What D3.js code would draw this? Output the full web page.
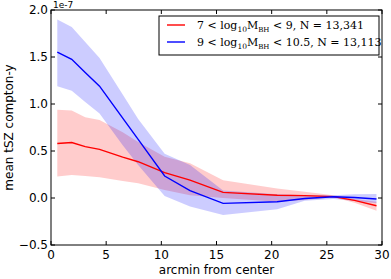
<!DOCTYPE html>
<html>
<head>
<meta charset="utf-8">
<script src="https://cdn.jsdelivr.net/npm/d3@7"></script>
<style>
  body { margin: 0; background: #fff; }
  svg { display: block; font-family: "DejaVu Sans", sans-serif; }
</style>
</head>
<body>
<div class="content"></div>
<script>
(function (window) {
    'use strict';
    // bin centres (arcmin) and values in units of 1e-7
    var radius = [0.57, 1.88, 3.1, 4.4, 6.5, 7.9, 10.3, 12.6, 15.6, 20.5, 23.0, 25.6, 27.5, 29.5],
        lowMass = [0.58, 0.59, 0.546, 0.518, 0.435, 0.386, 0.27, 0.19, 0.06, 0.03, 0.025, 0.015, -0.025, -0.082],
        lowMassHi = [0.94, 0.93, 0.86, 0.83, 0.70, 0.595, 0.44, 0.37, 0.19, 0.10, 0.067, 0.03, -0.01, -0.04],
        lowMassLo = [0.23, 0.245, 0.235, 0.22, 0.18, 0.156, 0.085, 0.03, 0.0, -0.04, -0.02, 0.007, -0.05, -0.135],
        highMass = [1.553, 1.475, 1.336, 1.19, 0.85, 0.623, 0.234, 0.078, -0.057, -0.04, -0.005, 0.014, 0.005, -0.01],
        highMassHi = [1.90, 1.82, 1.66, 1.49, 1.10, 0.84, 0.47, 0.35, 0.08, 0.04, 0.03, 0.03, 0.04, 0.043],
        highMassLo = [1.19, 1.14, 1.02, 0.90, 0.56, 0.35, 0.02, -0.09, -0.18, -0.12, -0.03, -0.01, -0.03, -0.056],
        xTicks = [0, 5, 10, 15, 20, 25, 30],
        yTicks = [-0.5, 0.0, 0.5, 1.0, 1.5, 2.0],
        series = [
            {mean: lowMass, hi: lowMassHi, lo: lowMassLo, color: "#ff0000",
                label: ["7 < log", "10", "M", "BH", " < 9, N = 13,341"]},
            {mean: highMass, hi: highMassHi, lo: highMassLo, color: "#0000ff",
                label: ["9 < log", "10", "M", "BH", " < 10.5, N = 13,113"]}
        ],
        W = 391, H = 279,
        plot = {left: 51, right: 382, top: 10, bottom: 245},
        x, y, svg, area, line, legend, rows, text;

    x = d3.scaleLinear().domain([0, 30]).range([plot.left, plot.right]);
    y = d3.scaleLinear().domain([-0.5, 2.0]).range([plot.bottom, plot.top]);

    svg = d3.select(".content").append("svg")
        .attr("width", W)
        .attr("height", H);

    area = function (s) {
        return d3.area()
            .x(function (d, i) { return x(radius[i]); })
            .y0(function (d, i) { return y(s.lo[i]); })
            .y1(function (d, i) { return y(s.hi[i]); })(s.mean);
    };
    line = function (s) {
        return d3.line()
            .x(function (d, i) { return x(radius[i]); })
            .y(function (d) { return y(d); })(s.mean);
    };

    svg.selectAll("path.band").data(series).enter().append("path")
        .attr("class", "band")
        .attr("d", area)
        .attr("fill", function (d) { return d.color; })
        .attr("fill-opacity", 0.2);

    svg.selectAll("path.mean").data(series).enter().append("path")
        .attr("class", "mean")
        .attr("d", line)
        .attr("fill", "none")
        .attr("stroke", function (d) { return d.color; })
        .attr("stroke-width", 1.4);

    // ticks pointing inwards on all four sides
    svg.selectAll("line.xt").data(xTicks).enter().append("line")
        .attr("x1", x).attr("x2", x)
        .attr("y1", plot.bottom).attr("y2", plot.bottom - 4)
        .attr("stroke", "#000");
    svg.selectAll("line.xt2").data(xTicks).enter().append("line")
        .attr("x1", x).attr("x2", x)
        .attr("y1", plot.top).attr("y2", plot.top + 4)
        .attr("stroke", "#000");
    svg.selectAll("line.yt").data(yTicks).enter().append("line")
        .attr("y1", y).attr("y2", y)
        .attr("x1", plot.left).attr("x2", plot.left + 4)
        .attr("stroke", "#000");
    svg.selectAll("line.yt2").data(yTicks).enter().append("line")
        .attr("y1", y).attr("y2", y)
        .attr("x1", plot.right).attr("x2", plot.right - 4)
        .attr("stroke", "#000");

    svg.append("rect")
        .attr("x", plot.left).attr("y", plot.top)
        .attr("width", plot.right - plot.left)
        .attr("height", plot.bottom - plot.top)
        .attr("fill", "none")
        .attr("stroke", "#000")
        .attr("stroke-width", 1);

    svg.selectAll("text.xl").data(xTicks).enter().append("text")
        .attr("x", x)
        .attr("y", plot.bottom + 14)
        .attr("text-anchor", "middle")
        .attr("font-size", "12px")
        .text(function (d) { return d; });
    svg.selectAll("text.yl").data(yTicks).enter().append("text")
        .attr("x", plot.left - 3)
        .attr("y", y)
        .attr("dy", "0.36em")
        .attr("text-anchor", "end")
        .attr("font-size", "12px")
        .text(function (d) { return d3.format(".1f")(d).replace("-", "\u2212"); });

    svg.append("text")
        .attr("x", plot.left + 2)
        .attr("y", 8)
        .attr("font-size", "9px")
        .text("1e-7");

    svg.append("text")
        .attr("x", (plot.left + plot.right) / 2)
        .attr("y", 274)
        .attr("text-anchor", "middle")
        .attr("font-size", "12px")
        .text("arcmin from center");

    svg.append("text")
        .attr("transform", "translate(13," + ((plot.top + plot.bottom) / 2) + ") rotate(-90)")
        .attr("text-anchor", "middle")
        .attr("font-size", "12px")
        .text("mean tSZ compton-y");

    // legend
    legend = svg.append("g");
    legend.append("rect")
        .attr("x", 159).attr("y", 16)
        .attr("width", 220).attr("height", 39)
        .attr("fill", "#fff")
        .attr("stroke", "#000");
    rows = legend.selectAll("g.row").data(series).enter().append("g")
        .attr("transform", function (d, i) { return "translate(0," + (25 + i * 17) + ")"; });
    rows.append("line")
        .attr("x1", 167).attr("x2", 185)
        .attr("y1", 0).attr("y2", 0)
        .attr("stroke", function (d) { return d.color; })
        .attr("stroke-width", 1.4);
    text = rows.append("text")
        .attr("x", 197)
        .attr("y", 4)
        .attr("font-family", "'DejaVu Serif', serif")
        .attr("font-size", "11px");
    text.append("tspan").text(function (d) { return d.label[0]; });
    text.append("tspan").attr("dy", 3).attr("font-size", "7.5px").text(function (d) { return d.label[1]; });
    text.append("tspan").attr("dy", -3).text(function (d) { return d.label[2]; });
    text.append("tspan").attr("dy", 3).attr("font-size", "7px").text(function (d) { return d.label[3]; });
    text.append("tspan").attr("dy", -3).text(function (d) { return d.label[4]; });
}(window));
</script>
</body>
</html>
